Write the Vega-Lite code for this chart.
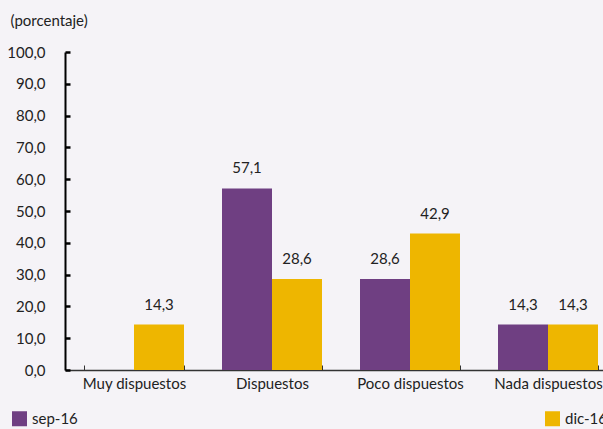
{
  "$schema": "https://vega.github.io/schema/vega-lite/v6.json",
  "width": 538,
  "height": 318,
  "autosize": {"type": "none"},
  "padding": {"left": 65, "top": 52, "right": 0, "bottom": 59},
  "background": "#f5f3f7",
  "config": {
    "view": {"stroke": null},
    "font": "Lato",
    "locale": {"number": {"decimal": ",", "thousands": ".", "grouping": [3], "currency": ["", " €"]}},
    "axis": {"labelFont": "Lato", "labelFontSize": 15, "labelColor": "#222", "titleFont": "Lato"},
    "legend": {"labelFont": "Lato", "labelFontSize": 15, "labelColor": "#222"}
  },
  "data": {
    "values": [
      {"categoria": "Muy dispuestos", "periodo": "dic-16", "valor": 14.3},
      {"categoria": "Dispuestos", "periodo": "sep-16", "valor": 57.1},
      {"categoria": "Dispuestos", "periodo": "dic-16", "valor": 28.6},
      {"categoria": "Poco dispuestos", "periodo": "sep-16", "valor": 28.6},
      {"categoria": "Poco dispuestos", "periodo": "dic-16", "valor": 42.9},
      {"categoria": "Nada dispuestos", "periodo": "sep-16", "valor": 14.3},
      {"categoria": "Nada dispuestos", "periodo": "dic-16", "valor": 14.3}
    ]
  },
  "encoding": {
    "x": {
      "field": "categoria",
      "type": "nominal",
      "sort": ["Muy dispuestos", "Dispuestos", "Poco dispuestos", "Nada dispuestos"],
      "scale": {"range": [0, 552], "paddingInner": 0.2754, "paddingOuter": 0.1377},
      "axis": {
        "title": null,
        "labelAngle": 0,
        "tickBand": "extent",
        "tickSize": -5,
        "tickColor": "#333",
        "tickWidth": 1,
        "domainColor": "#333",
        "domainWidth": 1.5,
        "labelPadding": 11
      }
    },
    "xOffset": {"field": "periodo", "type": "nominal", "scale": {"domain": ["sep-16", "dic-16"], "paddingInner": 0}},
    "y": {
      "field": "valor",
      "type": "quantitative",
      "scale": {"domain": [0, 100]},
      "axis": {
        "values": [0, 10, 20, 30, 40, 50, 60, 70, 80, 90, 100],
        "format": ".1f",
        "grid": false,
        "tickSize": -5,
        "tickWidth": 2.5,
        "tickColor": "#000",
        "domainColor": "#000",
        "domainWidth": 2,
        "labelPadding": 25,
        "title": "(porcentaje)",
        "titleAngle": 0,
        "titleAlign": "left",
        "titleBaseline": "middle",
        "titleX": -55,
        "titleY": -32,
        "titleFontSize": 15,
        "titleFontWeight": "normal",
        "titleColor": "#222"
      }
    }
  },
  "layer": [
    {
      "mark": {"type": "bar"},
      "encoding": {
        "color": {
          "field": "periodo",
          "type": "nominal",
          "scale": {"domain": ["sep-16", "dic-16"], "range": ["#6f3f82", "#eeb600"]},
          "legend": {
            "title": null,
            "orient": "none",
            "direction": "horizontal",
            "columns": 2,
            "legendX": -53,
            "legendY": 359,
            "columnPadding": 467,
            "symbolType": "square",
            "symbolSize": 225,
            "symbolStrokeWidth": 0,
            "labelOffset": 5
          }
        }
      }
    },
    {
      "mark": {"type": "text", "baseline": "bottom", "dy": -12, "fontSize": 15, "color": "#222", "font": "Lato"},
      "encoding": {
        "text": {"field": "valor", "type": "quantitative", "format": ".1f"}
      }
    }
  ]
}
